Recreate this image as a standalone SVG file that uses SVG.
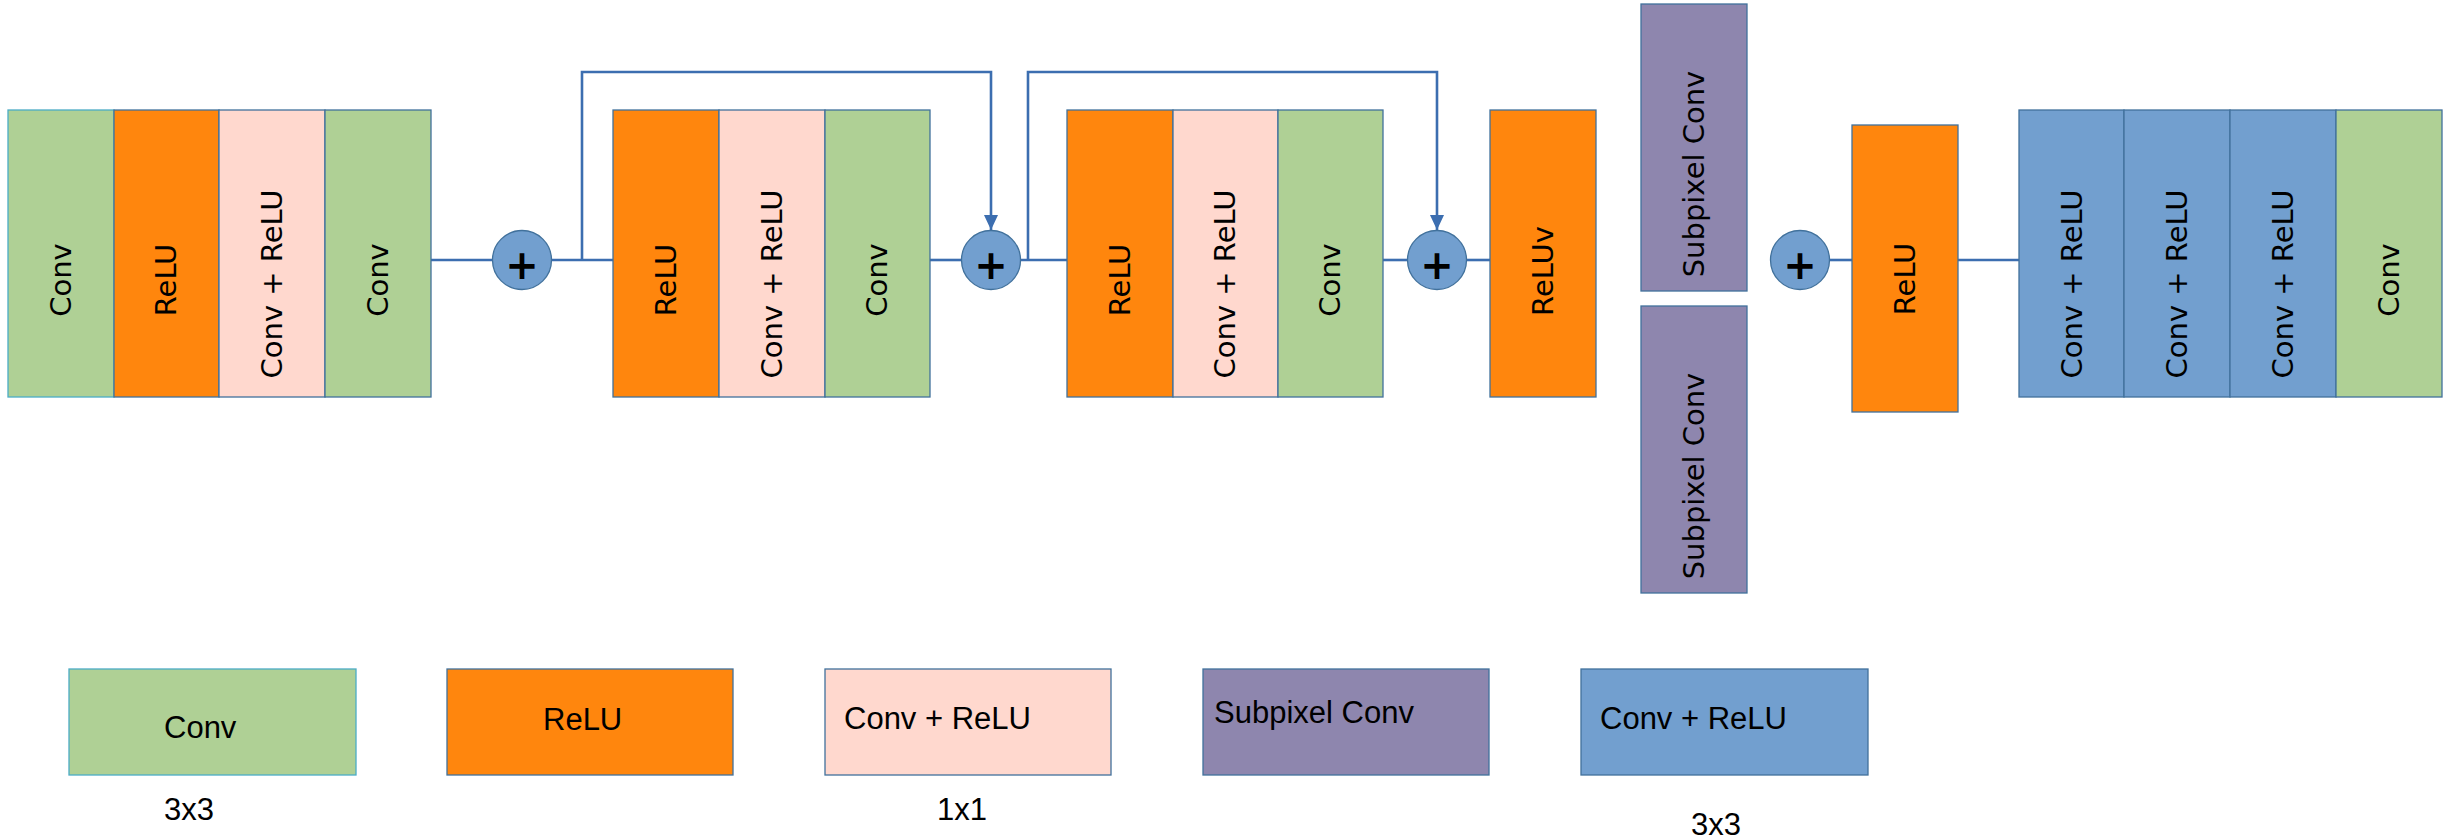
<svg xmlns="http://www.w3.org/2000/svg" width="2459" height="840" viewBox="0 0 2459 840">
  <defs>
    <style>
      .conv { fill: #AFD095; stroke: #41719C; stroke-width: 1.3; }
      .relu { fill: #FF860D; stroke: #41719C; stroke-width: 1.3; }
      .c11 { fill: #FFD8CE; stroke: #41719C; stroke-width: 1.3; }
      .sub { fill: #8E86AE; stroke: #41719C; stroke-width: 1.3; }
      .c33 { fill: #729FCF; stroke: #41719C; stroke-width: 1.3; }
      .sum { fill: #729FCF; stroke: #41719C; stroke-width: 1.3; }
      .vt { font-family: "DejaVu Sans", sans-serif; font-size: 29px; fill: #000; text-anchor: middle; }
      .plus { font-family: "DejaVu Sans", sans-serif; font-weight: bold; font-size: 40px; fill: #000; text-anchor: middle; }
      .lg { font-family: "Liberation Sans", Arial, sans-serif; font-size: 31px; fill: #000; }
      .wire { fill: none; stroke: #3C6EB0; stroke-width: 2.6; }
    </style>
    <marker id="arrow" viewBox="0 -8 16 16" refX="15" refY="0" markerWidth="16" markerHeight="16" markerUnits="userSpaceOnUse" orient="auto">
      <path d="M0,-7 L15,0 L0,7 z" fill="#3C6EB0"/>
    </marker>
  </defs>

  <!-- connectors -->
  <g id="connectors">
    <path class="wire" d="M431,260 H493"/>
    <path class="wire" d="M551,260 H613"/>
    <path class="wire" d="M582,260 V72 H991 V230" marker-end="url(#arrow)"/>
    <path class="wire" d="M930,260 H961"/>
    <path class="wire" d="M1020,260 H1067"/>
    <path class="wire" d="M1028,260 V72 H1437 V230" marker-end="url(#arrow)"/>
    <path class="wire" d="M1383,260 H1408"/>
    <path class="wire" d="M1466,260 H1490"/>
    <path class="wire" d="M1830,260 H1852"/>
    <path class="wire" d="M1958,260 H2019"/>
  </g>

  <!-- head block -->
  <g id="head">
    <rect class="conv" x="8" y="110" width="106" height="287" style="stroke:#4BACC6"/>
    <rect class="relu" x="114" y="110" width="105" height="287"/>
    <rect class="c11" x="219" y="110" width="106" height="287"/>
    <rect class="conv" x="325" y="110" width="106" height="287"/>
    <text class="vt" transform="translate(71,280) rotate(-90)">Conv</text>
    <text class="vt" transform="translate(176,280) rotate(-90)">ReLU</text>
    <text class="vt" transform="translate(282,284) rotate(-90)">Conv + ReLU</text>
    <text class="vt" transform="translate(388,280) rotate(-90)">Conv</text>
  </g>

  <g id="sum1">
    <circle class="sum" cx="522" cy="260" r="29.5"/>
    <text class="plus" x="522" y="279">+</text>
  </g>

  <!-- residual block 1 -->
  <g id="res1">
    <rect class="relu" x="613" y="110" width="106" height="287"/>
    <rect class="c11" x="719" y="110" width="106" height="287"/>
    <rect class="conv" x="825" y="110" width="105" height="287"/>
    <text class="vt" transform="translate(676,280) rotate(-90)">ReLU</text>
    <text class="vt" transform="translate(782,284) rotate(-90)">Conv + ReLU</text>
    <text class="vt" transform="translate(887,280) rotate(-90)">Conv</text>
  </g>

  <g id="sum2">
    <circle class="sum" cx="991" cy="260" r="29.5"/>
    <text class="plus" x="991" y="279">+</text>
  </g>

  <!-- residual block 2 -->
  <g id="res2">
    <rect class="relu" x="1067" y="110" width="106" height="287"/>
    <rect class="c11" x="1173" y="110" width="105" height="287"/>
    <rect class="conv" x="1278" y="110" width="105" height="287"/>
    <text class="vt" transform="translate(1130,280) rotate(-90)">ReLU</text>
    <text class="vt" transform="translate(1235,284) rotate(-90)">Conv + ReLU</text>
    <text class="vt" transform="translate(1340,280) rotate(-90)">Conv</text>
  </g>

  <g id="sum3">
    <circle class="sum" cx="1437" cy="260" r="29.5"/>
    <text class="plus" x="1437" y="279">+</text>
  </g>

  <g id="reluv">
    <rect class="relu" x="1490" y="110" width="106" height="287"/>
    <text class="vt" transform="translate(1553,271) rotate(-90)">ReLUv</text>
  </g>

  <g id="subpixel1">
    <rect class="sub" x="1641" y="4" width="106" height="287"/>
    <text class="vt" transform="translate(1704,174) rotate(-90)">Subpixel Conv</text>
  </g>

  <g id="subpixel2">
    <rect class="sub" x="1641" y="306" width="106" height="287"/>
    <text class="vt" transform="translate(1704,476) rotate(-90)">Subpixel Conv</text>
  </g>

  <g id="sum4">
    <circle class="sum" cx="1800" cy="260" r="29.5"/>
    <text class="plus" x="1800" y="279">+</text>
  </g>

  <g id="relu-up">
    <rect class="relu" x="1852" y="125" width="106" height="287"/>
    <text class="vt" transform="translate(1915,279) rotate(-90)">ReLU</text>
  </g>

  <!-- tail block -->
  <g id="tail">
    <rect class="c33" x="2019" y="110" width="105" height="287"/>
    <rect class="c33" x="2124" y="110" width="106" height="287"/>
    <rect class="c33" x="2230" y="110" width="106" height="287"/>
    <rect class="conv" x="2336" y="110" width="106" height="287"/>
    <text class="vt" transform="translate(2082,284) rotate(-90)">Conv + ReLU</text>
    <text class="vt" transform="translate(2187,284) rotate(-90)">Conv + ReLU</text>
    <text class="vt" transform="translate(2293,284) rotate(-90)">Conv + ReLU</text>
    <text class="vt" transform="translate(2399,280) rotate(-90)">Conv</text>
  </g>

  <!-- legend -->
  <g id="legend-conv">
    <rect class="conv" x="69" y="669" width="287" height="106" style="stroke:#4BACC6"/>
    <text class="lg" x="164" y="738">Conv</text>
    <text class="lg" x="164" y="820">3x3</text>
  </g>
  <g id="legend-relu">
    <rect class="relu" x="447" y="669" width="286" height="106"/>
    <text class="lg" x="543" y="730">ReLU</text>
  </g>
  <g id="legend-conv-relu-1x1">
    <rect class="c11" x="825" y="669" width="286" height="106"/>
    <text class="lg" x="844" y="729">Conv + ReLU</text>
    <text class="lg" x="937" y="820">1x1</text>
  </g>
  <g id="legend-subpixel">
    <rect class="sub" x="1203" y="669" width="286" height="106"/>
    <text class="lg" x="1214" y="723">Subpixel Conv</text>
  </g>
  <g id="legend-conv-relu-3x3">
    <rect class="c33" x="1581" y="669" width="287" height="106"/>
    <text class="lg" x="1600" y="729">Conv + ReLU</text>
    <text class="lg" x="1691" y="835">3x3</text>
  </g>
</svg>
